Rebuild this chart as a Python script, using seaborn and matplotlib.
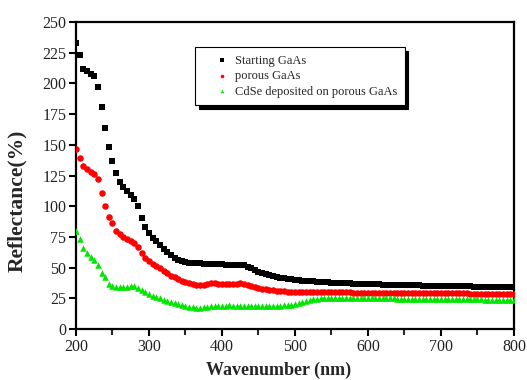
import numpy as np
import pandas as pd
import matplotlib
matplotlib.use("Agg")
import matplotlib.pyplot as plt
import seaborn as sns

wavelength = [200, 205, 210, 215, 220, 225, 230, 235, 240, 245,
              250, 255, 260, 265, 270, 275, 280, 285, 290, 295,
              300, 305, 310, 315, 320, 325, 330, 335, 340, 345,
              350, 355, 360, 365, 370, 375, 380, 385, 390, 395,
              400, 405, 410, 415, 420, 425, 430, 435, 440, 445,
              450, 455, 460, 465, 470, 475, 480, 485, 490, 495,
              500, 505, 510, 515, 520, 525, 530, 535, 540, 545,
              550, 555, 560, 565, 570, 575, 580, 585, 590, 595,
              600, 605, 610, 615, 620, 625, 630, 635, 640, 645,
              650, 655, 660, 665, 670, 675, 680, 685, 690, 695,
              700, 705, 710, 715, 720, 725, 730, 735, 740, 745,
              750, 755, 760, 765, 770, 775, 780, 785, 790, 795,
              800]

starting_gaas = [233, 223, 212, 210, 208, 206, 197, 181, 164, 148,
                 137, 127, 120, 116, 112, 109, 106, 100, 90, 83,
                 78.5, 74.5, 71.5, 68.5, 65.5, 62.5, 60, 58, 56.5, 55,
                 54.2, 54, 53.8, 53.6, 53.4, 53.2, 53, 52.9, 52.8, 52.7,
                 52.6, 52.4, 52.2, 52, 51.9, 52, 51.8, 50.8, 49.5, 48,
                 46.8, 45.7, 44.7, 43.8, 43, 42.3, 41.8, 41.3, 41, 40.6,
                 40.2, 39.8, 39.5, 39.2, 39, 38.7, 38.5, 38.3, 38.1, 37.9,
                 37.7, 37.6, 37.5, 37.3, 37.2, 37.1, 37, 36.9, 36.8, 36.7,
                 36.6, 36.5, 36.4, 36.3, 36.2, 36.1, 36.0, 36.0, 35.9, 35.8,
                 35.7, 35.7, 35.6, 35.5, 35.5, 35.4, 35.3, 35.3, 35.2, 35.1,
                 35.1, 35.0, 35.0, 34.9, 34.9, 34.8, 34.8, 34.7, 34.7, 34.6,
                 34.6, 34.5, 34.5, 34.4, 34.4, 34.3, 34.3, 34.2, 34.2, 34.1,
                 34.1]

porous_gaas = [147, 139, 133, 130, 128, 126.5, 122, 111, 100, 91,
               86, 80, 77, 75, 73.5, 72, 70, 66.5, 61.5, 57.5,
               55, 53, 51.5, 49.5, 47.5, 45.5, 43.5, 42, 40.5, 39.3,
               38.3, 37.5, 36.8, 36.2, 35.8, 36.2, 37, 37.5, 37.3, 37,
               36.8, 36.8, 36.5, 36.3, 36.8, 37.3, 37, 36, 35, 34.2,
               33.5, 32.8, 32.3, 31.9, 31.5, 31.2, 31, 30.7, 30.5, 30.3,
               30.2, 30.2, 30.1, 30.1, 30.1, 30.0, 30.0, 30.0, 29.9, 29.9,
               29.9, 29.9, 29.8, 29.8, 29.8, 29.8, 29.7, 29.7, 29.7, 29.7,
               29.6, 29.6, 29.6, 29.6, 29.5, 29.5, 29.5, 29.5, 29.4, 29.4,
               29.4, 29.4, 29.3, 29.3, 29.3, 29.3, 29.2, 29.2, 29.2, 29.2,
               29.1, 29.1, 29.1, 29.1, 29.0, 29.0, 29.0, 29.0, 28.9, 28.9,
               28.9, 28.9, 28.8, 28.8, 28.8, 28.8, 28.7, 28.7, 28.7, 28.7,
               28.7]

cdse_on_porous = [80, 73, 66, 62, 59, 56.5, 52, 46, 42, 37,
                  35, 34.2, 34, 34.2, 34.6, 35, 34.8, 33, 31.5, 30,
                  28.5, 27, 26, 25, 24, 23, 21.8, 20.8, 20, 19.2,
                  18.7, 18.2, 17.8, 17.5, 17.3, 17.6, 18.2, 18.8, 19, 19,
                  19, 19.1, 19.2, 19.1, 19, 18.9, 19, 19.1, 19.1, 19,
                  19, 18.9, 18.9, 19, 19, 19.1, 19.1, 19.2, 19.3, 19.5,
                  20, 21, 22, 23, 23.7, 24.2, 24.6, 25, 25.2, 25.3,
                  25.4, 25.4, 25.4, 25.3, 25.3, 25.3, 25.2, 25.2, 25.2, 25.1,
                  25.1, 25.1, 25.0, 25.0, 25.0, 24.9, 24.9, 24.9, 24.8, 24.8,
                  24.8, 24.7, 24.7, 24.7, 24.6, 24.6, 24.6, 24.5, 24.5, 24.5,
                  24.4, 24.4, 24.4, 24.3, 24.3, 24.3, 24.2, 24.2, 24.2, 24.1,
                  24.1, 24.1, 24.0, 24.0, 24.0, 23.9, 23.9, 23.9, 23.8, 23.8,
                  23.8]

series_labels = ["Starting GaAs", "porous GaAs", "CdSe deposited on porous GaAs"]
x_ticks = [200, 300, 400, 500, 600, 700, 800]
y_ticks = [0, 25, 50, 75, 100, 125, 150, 175, 200, 225, 250]

sns.set_style("ticks")
plt.rcParams["font.family"] = ["Liberation Serif", "DejaVu Serif"]

fig, ax = plt.subplots(figsize=(5.27, 3.8), dpi=100)
fig.subplots_adjust(left=0.1442, right=0.9753, bottom=0.1342, top=0.942)

sns.scatterplot(x=wavelength, y=starting_gaas, marker="s", color="black",
                s=16, linewidth=0, ax=ax, label=series_labels[0], zorder=3)
sns.scatterplot(x=wavelength, y=porous_gaas, marker="o", color="#ff0000",
                s=22, linewidth=0, ax=ax, label=series_labels[1], zorder=3)
sns.scatterplot(x=wavelength, y=cdse_on_porous, marker="^", color="#00e600",
                s=22, linewidth=0, ax=ax, label=series_labels[2], zorder=3)

ax.set_xlim(200, 800)
ax.set_ylim(0, 250)
ax.set_xticks(x_ticks)
ax.set_xticks([250, 350, 450, 550, 650, 750], minor=True)
ax.set_yticks(y_ticks)
ax.tick_params(axis="both", which="major", direction="out", length=5, width=1.5,
               labelsize=11.5, pad=2, color="black", labelcolor="#222222")
ax.tick_params(axis="x", which="minor", direction="out", length=4, width=1.5)
for sp in ax.spines.values():
    sp.set_linewidth(1.6)
    sp.set_color("black")

ax.set_xlabel("Wavenumber (nm)", fontsize=13, fontweight="bold")
ax.set_ylabel("Reflectance(%)", fontsize=15.5, fontweight="bold")
ax.xaxis.set_label_coords(0.463, -0.108)
ax.yaxis.set_label_coords(-0.112, 0.417)

handles, labels = ax.get_legend_handles_labels()
leg = ax.legend(handles, labels, loc="upper left", bbox_to_anchor=(0.272, 0.918),
                borderaxespad=0, fontsize=9, frameon=True, fancybox=False,
                edgecolor="black", framealpha=1, handlelength=3.1,
                handletextpad=-0.5, borderpad=0.6, labelspacing=0.28,
                markerscale=0.55, scatterpoints=1,
                shadow={"color": "black", "alpha": 1, "ox": 2.5, "oy": -2.5})
leg.get_frame().set_linewidth(0.8)

fig.savefig("out.png", dpi=100)
